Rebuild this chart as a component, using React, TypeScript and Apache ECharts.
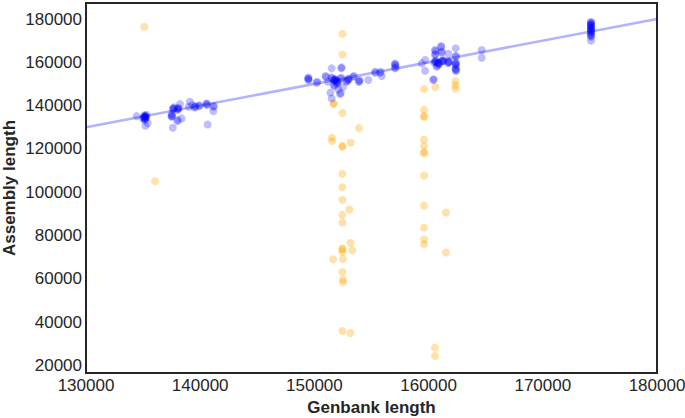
import React, { useEffect, useRef } from "react";
import * as echarts from "echarts";

// Blue points: [Genbank length, Assembly length]
const bluePoints: [number, number][] = [
  // ~135k cluster
  [134440, 135140], [135170, 134820], [135100, 135500], [135200, 134500], [135000, 134000],
  [135300, 135800], [135150, 133200], [135250, 134200], [135100, 135000],
  [135150, 134600], [135200, 135200], [135050, 134300], [135250, 134900], [135150, 133800],
  [135200, 130650], [135400, 131800],
  // ~138-141k cluster
  [137650, 138700], [137700, 139200], [137600, 138300], [138080, 138370], [138100, 138900], [138000, 137900],
  [137700, 138500], [138050, 138600],
  [137500, 134820], [137550, 135300], [137500, 136000], [137500, 135100], [138000, 132820], [138050, 133300],
  [137600, 129750], [138370, 134080], [138230, 140690], [139100, 141750], [139000, 139440],
  [139550, 139440], [139600, 139800], [139500, 139100], [139920, 139760], [139950, 140100],
  [140570, 140690], [140600, 140300], [140550, 141000], [141150, 139440], [141200, 139800],
  [141150, 137450], [140650, 131300], [139300, 140200],
  // ~149-157k cluster
  [149470, 152110], [149450, 152500], [149500, 151800], [149470, 153000],
  [150200, 150540], [150250, 151000], [150990, 153640], [151000, 153200],
  [151510, 157200], [152390, 157660], [152350, 157200],
  [151500, 153000], [151550, 152600], [151800, 151800], [151850, 152200], [151750, 151400],
  [151800, 152000], [151900, 151600], [152000, 151200], [151650, 151900],
  [152000, 150500], [152050, 150900], [151950, 150100], [152300, 152500], [152350, 152900],
  [151700, 149500], [151750, 149000], [152500, 148500], [152100, 147500], [151400, 146000],
  [152240, 145310], [152300, 145800], [151510, 143320], [151200, 151000],
  [152800, 151000], [152850, 151400],
  [152960, 152110], [153000, 152500], [152950, 151700], [153410, 153330], [153450, 153700],
  [153910, 151320], [153950, 151700], [153900, 150900], [154720, 151790],
  [155310, 155620], [155350, 155200], [155750, 155150], [155800, 155600], [155900, 153640],
  [157060, 159040], [157100, 158600], [157050, 159400], [157060, 157200], [157100, 157600],
  // ~159-165k cluster
  [159400, 159500], [159690, 156080], [159700, 161030],
  [160560, 165660], [160600, 165200], [160560, 163400], [160600, 163800],
  [161090, 167510], [161100, 167000], [161150, 164500], [161150, 164900],
  [160560, 160260], [160600, 160700], [160500, 159900], [160650, 160400],
  [160850, 159500], [160900, 159100], [160800, 159800], [160900, 159300],
  [161200, 160700], [161250, 161100], [161150, 160300], [161300, 160600],
  [160700, 158000], [160750, 158400], [160410, 151790], [160450, 152200],
  [161730, 159970], [161750, 160400], [161700, 159600], [161800, 160100],
  [161730, 163990], [162370, 166450], [162370, 162560], [162400, 162900],
  [162370, 159500], [162400, 159900], [162350, 159100], [162400, 158700],
  [162370, 156410], [162400, 156800], [162350, 157200], [162400, 156000],
  [164650, 165660], [164650, 162100],
  // ~174k cluster
  [174220, 178700], [174220, 178000], [174220, 177300], [174220, 176600], [174220, 175800],
  [174220, 175000], [174220, 174200], [174220, 173400], [174220, 172600], [174220, 171800],
  [174220, 177600], [174220, 176000], [174220, 174600], [174220, 178300], [174220, 176900],
  [174220, 175400], [174220, 173800], [174220, 172200], [174220, 169960],
];

// Orange points: [Genbank length, Assembly length]
const orangePoints: [number, number][] = [
  [135100, 176430], [136040, 105080],
  [152450, 173200], [152450, 163670], [151660, 140690], [151700, 141100], [152450, 136520],
  [153900, 129590], [151540, 125100], [151540, 123580], [152450, 120940], [152450, 121400],
  [153180, 122980], [152450, 108460], [152450, 102310], [152450, 96440], [153060, 91990],
  [152450, 89500], [152450, 85980], [153150, 76550], [152450, 73500], [152450, 74100],
  [152450, 72390], [153320, 73180], [151630, 69010], [152500, 69150], [152450, 63140],
  [152500, 59630], [152500, 58380], [152450, 35860], [153150, 34940],
  [159600, 147620], [160590, 148550], [162340, 151320], [162340, 149470], [162340, 147760],
  [159600, 138050], [159600, 134680], [159600, 135200], [159600, 124360], [159600, 121270],
  [159600, 118630], [159600, 117890], [159600, 107720], [159600, 93850], [161520, 90610],
  [159600, 83670], [159600, 78260], [159600, 76090], [161520, 72110],
  [160560, 28180], [160560, 24300],
];

// Identity reference line
const identityLine: [number, number][] = [
  [130000, 130000],
  [180000, 180000],
];

const xTicks = [130000, 140000, 150000, 160000, 170000, 180000];
const yTicks = [20000, 40000, 60000, 80000, 100000, 120000, 140000, 160000, 180000];

const FONT = "'Liberation Sans', Arial, sans-serif";

export default function App() {
  const ref = useRef<HTMLDivElement>(null);

  useEffect(() => {
    if (!ref.current) return;
    const chart = echarts.init(ref.current, undefined, { renderer: "svg" });
    chart.setOption({
      animation: false,
      backgroundColor: "#ffffff",
      grid: {
        left: 86,
        right: 28,
        top: 3,
        bottom: 45,
        show: true,
        borderColor: "#262626",
        borderWidth: 2,
        backgroundColor: "transparent",
        containLabel: false,
        outerBoundsMode: "none",
      },
      xAxis: {
        type: "value",
        min: 130000,
        max: 180000,
        interval: 10000,
        name: "Genbank length",
        nameLocation: "middle",
        nameGap: 25,
        nameTextStyle: { fontFamily: FONT, fontSize: 17, fontWeight: "bold", color: "#262626" },
        axisLine: { show: false },
        axisTick: { show: false },
        splitLine: { show: false },
        axisLabel: {
          fontFamily: FONT,
          fontSize: 17,
          color: "#262626",
          margin: 4,
          customValues: xTicks,
          formatter: (v: number) => String(v),
        },
      },
      yAxis: {
        type: "value",
        min: 16450,
        max: 187400,
        name: "Assembly length",
        nameLocation: "middle",
        nameGap: 68,
        nameMoveOverlap: false,
        nameTextStyle: { fontFamily: FONT, fontSize: 17, fontWeight: "bold", color: "#262626" },
        axisLine: { show: false },
        axisTick: { show: false },
        splitLine: { show: false },
        axisLabel: {
          fontFamily: FONT,
          fontSize: 17,
          color: "#262626",
          margin: 4,
          customValues: yTicks,
          formatter: (v: number) => String(v),
        },
      },
      series: [
        {
          type: "line",
          data: identityLine,
          showSymbol: false,
          symbol: "none",
          lineStyle: { color: "rgba(0,0,255,0.3)", width: 2.5 },
          z: 1,
        },
        {
          type: "scatter",
          data: orangePoints,
          symbolSize: 8,
          itemStyle: { color: "rgba(255,165,0,0.42)" },
          z: 2,
        },
        {
          type: "scatter",
          data: bluePoints,
          symbolSize: 8,
          itemStyle: { color: "rgba(0,0,255,0.32)" },
          z: 3,
        },
      ],
    });
    return () => chart.dispose();
  }, []);

  return (
    <div
      ref={ref}
      style={{ position: "fixed", left: 0, top: 0, width: 685, height: 418, background: "#fff" }}
    />
  );
}
